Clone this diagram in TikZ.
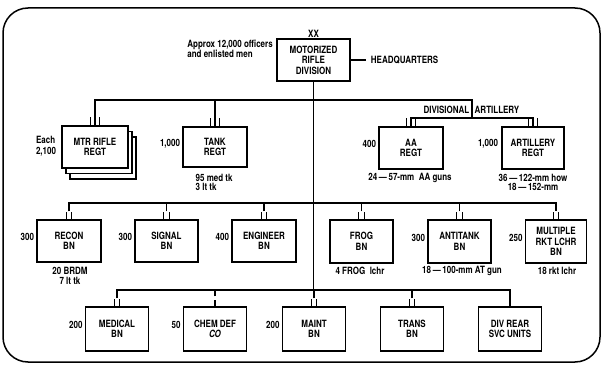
\documentclass[tikz,border=0pt]{standalone}
\usepackage{fontspec}
\setmainfont{TeX Gyre Heros}[FakeStretch=0.8]
\usetikzlibrary{shadows}
\newcommand\dgfont{\fontsize{10}{10.5}\selectfont\bfseries}
\begin{document}
\begin{tikzpicture}[x=1pt,y=-1pt,
  box/.style={draw, line width=1.5pt, fill=white, align=center, inner sep=0pt,
    minimum width=64pt, minimum height=42pt, font=\dgfont},
  bar/.style={line width=1.3pt},
  tk/.style={line width=1.1pt},
  lbl/.style={font=\dgfont, inner sep=1pt},
  note/.style={font=\fontsize{10}{9.8}\selectfont\bfseries, inner sep=0pt, align=center},
]
\useasboundingbox (0,0) rectangle (602,366);
\draw[line width=1.5pt, rounded corners=25pt] (3,8) rectangle (600,362);

% headquarters
\node[box, minimum width=73pt] (hq) at (313.5,60) {MOTORIZED\\RIFLE\\DIVISION};
\node[lbl, anchor=south, inner sep=0.5pt] (xx) at (hq.north) {XX};
\node[lbl, anchor=north east, align=left, inner sep=0pt] (appr) at (273,39.5) {Approx 12,000 officers\\and enlisted men};
\coordinate (hqend) at ([xshift=15pt]hq.east);
\node[lbl, anchor=west] (hqt) at ([xshift=4pt]hqend) {HEADQUARTERS};

% regiments
\node[box, minimum width=66pt, double copy shadow={draw, fill=white, line width=1.5pt, shadow xshift=4pt, shadow yshift=-5.5pt}] (mtr) at (95,147) {MTR RIFLE\\REGT};
\node[box, minimum height=40pt] (tank) at (215,147) {TANK\\REGT};
\node[box] (aa) at (411,148) {AA\\REGT};
\node[box, minimum width=62pt] (art) at (533,148) {ARTILLERY\\REGT};

% battalions row 2
\node[box] (recon) at (69,241) {RECON\\BN};
\node[box, minimum width=63pt] (signal) at (166.5,241) {SIGNAL\\BN};
\node[box] (eng) at (264,241) {ENGINEER\\BN};
\node[box, minimum width=63pt, minimum height=43pt] (frog) at (361.5,241.5) {FROG\\BN};
\node[box, minimum width=63pt, minimum height=43pt] (at) at (459.5,241.5) {ANTITANK\\BN};
\node[box, minimum width=61pt, minimum height=43pt] (mrl) at (556,241.5) {MULTIPLE\\RKT LCHR\\BN};

% bottom row
\node[box, minimum width=63pt, minimum height=44pt] (med) at (117,329) {MEDICAL\\BN};
\node[box, minimum width=63pt, minimum height=44pt] (chem) at (215,329) {CHEM DEF\\\textit{CO}};
\node[box, minimum width=63pt, minimum height=44pt] (maint) at (314,329) {MAINT\\BN};
\node[box, minimum width=63pt, minimum height=44pt] (trans) at (412,329) {TRANS\\BN};
\node[box, minimum width=63pt, minimum height=44pt] (rear) at (510,329) {DIV REAR\\SVC UNITS};

% junction coordinates
\coordinate (j1) at (313.5,100);
\coordinate (j2) at (313.5,203);
\coordinate (j3) at (313.5,290);
\coordinate (hook) at (472,100);
\coordinate (artj) at (472,118);

% connectors
\draw[bar] (hq.east) -- (hqend);
\draw[bar] (hq.south) -- (j3);
\draw[bar] (mtr.north) -- (mtr.north |- j1) -- (hook) -- (artj);
\draw[bar] (tank.north) -- (tank.north |- j1);
\draw[bar] (aa.north) -- (aa.north |- artj) -- (art.north |- artj) -- (art.north);
\draw[bar] ([yshift=8pt]recon.north) -- (recon.north |- j2) -- (mrl.north |- j2) -- ([yshift=8pt]mrl.north);
\foreach \n in {signal,eng,frog,at}{
  \draw[bar] ([yshift=8pt]\n.north) -- (\n.north |- j2);
}
\draw[bar] ([yshift=8pt]med.north) -- (med.north |- j3) -- (rear.north |- j3) -- (rear.north);
\foreach \n in {maint,trans}{
  \draw[bar] ([yshift=8pt]\n.north) -- (\n.north |- j3);
}
\draw[bar] ([yshift=10pt]chem.north) -- (chem.north |- j3);
\draw[tk] (chem.north) -- ++(0,6.5pt);

% unit size ticks
\foreach \n in {mtr,tank,aa,art}{
  \draw[tk] ([xshift=-4.5pt]\n.north) -- ++(0,8pt);
  \draw[tk] ([xshift=4.5pt]\n.north) -- ++(0,8pt);
}
\foreach \n in {recon,signal,eng,frog,at,mrl,med,maint,trans}{
  \draw[tk] ([xshift=-2.8pt]\n.north) -- ++(0,7.5pt);
  \draw[tk] ([xshift=2.8pt]\n.north) -- ++(0,7.5pt);
}

% divisional artillery
\node[lbl, anchor=east] (dv) at (470.5,110) {DIVISIONAL};
\node[lbl, anchor=west] (ar) at (473.5,110) {ARTILLERY};

% strength labels
\node[lbl, anchor=east, align=left] (lmtr) at ([xshift=-4pt, yshift=1pt]mtr.west) {Each\\2,100};
\node[lbl, anchor=east] (ltank) at ([xshift=-1pt, yshift=3pt]tank.west) {1,000};
\node[lbl, anchor=east] (laa) at ([xshift=-1pt, yshift=4pt]aa.west) {400};
\node[lbl, anchor=east] (lart) at ([xshift=-2pt, yshift=4pt]art.west) {1,000};
\node[lbl, anchor=east] (lrecon) at ([xshift=-1pt, yshift=4pt]recon.west) {300};
\node[lbl, anchor=east] (lsig) at ([xshift=-1pt, yshift=4pt]signal.west) {300};
\node[lbl, anchor=east] (leng) at ([xshift=-1pt, yshift=4pt]eng.west) {400};
\node[lbl, anchor=east] (lat) at ([xshift=-1pt, yshift=4pt]at.west) {300};
\node[lbl, anchor=east] (lmrl) at ([xshift=-1pt, yshift=4pt]mrl.west) {250};
\node[lbl, anchor=east] (lmed) at ([xshift=-1pt, yshift=4pt]med.west) {200};
\node[lbl, anchor=east] (lchem) at ([xshift=-1pt, yshift=4pt]chem.west) {50};
\node[lbl, anchor=east] (lmaint) at ([xshift=-1pt, yshift=4pt]maint.west) {200};

% equipment notes
\node[note, align=left, anchor=west] (ntank) at (195.5,182.5) {95 med tk\\3 lt tk};
\node[note] (naa) at (410,178) {24\,—\,57-mm\ \ AA guns};
\node[note] (nart) at (533,182.5) {36\,—\,122-mm how\\18\,—\,152-mm};
\node[note] (nrecon) at (70,276) {20 BRDM\\7 lt tk};
\node[note] (nfrog) at (360,271) {4 FROG\ \ lchr};
\node[note] (nat) at (462,271) {18\,—\,100-mm AT gun};
\node[note] (nmrl) at (557,271) {18 rkt lchr};
\end{tikzpicture}
\end{document}
